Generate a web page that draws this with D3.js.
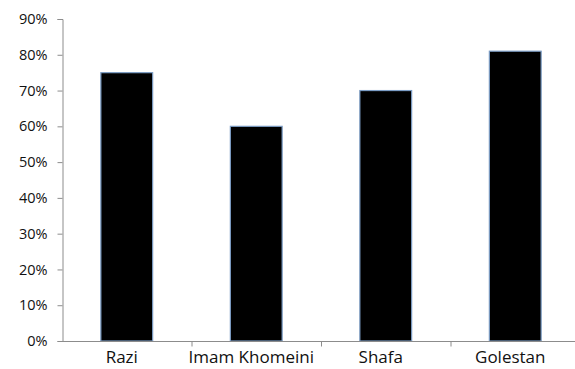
<!DOCTYPE html>
<html><head><meta charset="utf-8">
<script src="https://cdn.jsdelivr.net/npm/d3@7"></script>
<style>body{margin:0;background:#fff}svg{display:block}</style>
</head><body>
<script>
const categories = ["Razi", "Imam Khomeini", "Shafa", "Golestan"];
const values = [0.75, 0.60, 0.70, 0.81];
const yTicks = [0, 0.1, 0.2, 0.3, 0.4, 0.5, 0.6, 0.7, 0.8, 0.9];

const W = 575, H = 369;
const svg = d3.select("body").append("svg").attr("width", W).attr("height", H);
const font = "'Open Sans', sans-serif";

const x = d3.scaleBand().domain(categories).range([62, 580]).paddingInner(0.6).paddingOuter(0.3);
const y = d3.scaleLinear().domain([0, 0.9]).range([341, 19]);

// bars
svg.selectAll("rect.bar").data(values).enter().append("rect")
  .attr("class", "bar")
  .attr("x", (d, i) => x(categories[i]))
  .attr("width", x.bandwidth())
  .attr("y", d => y(d))
  .attr("height", d => y(0) - y(d))
  .attr("fill", "#000")
  .attr("stroke", "#7b9cc4")
  .attr("stroke-width", 1.2);

// y axis
const yAxis = svg.append("g").attr("transform", "translate(62.5,0)")
  .call(d3.axisLeft(y).tickValues(yTicks).tickFormat(d3.format(".0%")).tickSize(5).tickPadding(10));
yAxis.select(".domain").attr("stroke", "#8c8c8c");
yAxis.selectAll(".tick line").attr("stroke", "#8c8c8c");
yAxis.selectAll(".tick text").attr("font-family", font).attr("font-size", 14.5).attr("fill", "#111");

// x axis
const xBand = d3.scaleBand().domain(categories).range([62, 580]);
const xAxis = svg.append("g").attr("transform", "translate(0,341.5)");
xAxis.append("line").attr("x1", 62).attr("x2", 580).attr("stroke", "#8c8c8c");
xAxis.selectAll("line.tk").data(categories.slice(1)).enter().append("line")
  .attr("class", "tk")
  .attr("x1", d => xBand(d) + 0.5).attr("x2", d => xBand(d) + 0.5)
  .attr("y1", 0).attr("y2", 5).attr("stroke", "#8c8c8c");
xAxis.selectAll("text").data(categories).enter().append("text")
  .attr("x", d => xBand(d) + xBand.bandwidth() / 2 - 5)
  .attr("y", 21.5)
  .attr("text-anchor", "middle")
  .attr("font-family", font).attr("font-size", 17).attr("fill", "#111")
  .text(d => d);
</script>
</body></html>
